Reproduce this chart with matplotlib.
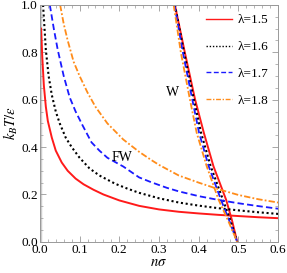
import numpy as np
import matplotlib
matplotlib.use('Agg')
import matplotlib.pyplot as plt
from matplotlib.ticker import MultipleLocator

'''############################################################################
   Data read off the picture (n sigma, k_B T / epsilon)
#############################################################################'''

lambdas = ['1.5', '1.6', '1.7', '1.8']

# FW branch
fw_n_15 = [0.003, 0.006, 0.01, 0.015, 0.02, 0.03, 0.04, 0.055, 0.07, 0.09, 0.11, 0.135, 0.16, 0.2, 0.25, 0.3, 0.35, 0.4, 0.45, 0.5, 0.55, 0.6]
fw_T_15 = [0.90, 0.78, 0.66, 0.57, 0.51, 0.44, 0.385, 0.335, 0.30, 0.267, 0.243, 0.22, 0.20, 0.175, 0.152, 0.137, 0.127, 0.12, 0.114, 0.109, 0.104, 0.10]

fw_n_16 = [0.008, 0.015, 0.022, 0.03, 0.04, 0.05, 0.065, 0.08, 0.10, 0.125, 0.15, 0.19, 0.22, 0.25, 0.3, 0.35, 0.4, 0.45, 0.5, 0.55, 0.6]
fw_T_16 = [1.0, 0.81, 0.70, 0.62, 0.55, 0.50, 0.44, 0.40, 0.355, 0.31, 0.28, 0.245, 0.225, 0.207, 0.184, 0.166, 0.153, 0.142, 0.133, 0.125, 0.118]

fw_n_17 = [0.025, 0.035, 0.045, 0.06, 0.075, 0.09, 0.108, 0.13, 0.15, 0.17, 0.21, 0.25, 0.28, 0.32, 0.35, 0.4, 0.45, 0.5, 0.55, 0.6]
fw_T_17 = [1.0, 0.90, 0.81, 0.70, 0.61, 0.55, 0.49, 0.42, 0.385, 0.355, 0.318, 0.272, 0.252, 0.228, 0.213, 0.193, 0.177, 0.163, 0.151, 0.14]

fw_n_18 = [0.051, 0.06, 0.07, 0.085, 0.1, 0.12, 0.14, 0.17, 0.21, 0.25, 0.28, 0.3, 0.35, 0.4, 0.45, 0.5, 0.55, 0.6]
fw_T_18 = [1.0, 0.92, 0.85, 0.76, 0.70, 0.63, 0.57, 0.50, 0.432, 0.38, 0.346, 0.325, 0.28, 0.25, 0.222, 0.198, 0.18, 0.166]

# W branch
w_T = [1.0, 0.8, 0.6, 0.46, 0.32, 0.178, 0.09, 0.0]
w_n_15 = [0.340, 0.365, 0.391, 0.413, 0.437, 0.469, 0.484, 0.497]
w_n_16 = [0.340, 0.363, 0.388, 0.406, 0.430, 0.461, 0.480, 0.497]
w_n_17 = [0.339, 0.360, 0.384, 0.401, 0.425, 0.456, 0.477, 0.497]
w_n_18 = [0.337, 0.355, 0.378, 0.395, 0.420, 0.450, 0.474, 0.497]

'''############################################################################
   Plot
#############################################################################'''

plt.rcParams['font.family'] = ['Liberation Serif', 'DejaVu Serif']
plt.rcParams['mathtext.fontset'] = 'stix'

fig = plt.figure(figsize=(2.87, 2.73), dpi=100)
ax = fig.add_axes([0.139, 0.114, 0.830, 0.868])

styles = [dict(color='#ff1a1a', ls='-', lw=1.4),
          dict(color='black', ls=(0, (1, 1.3)), lw=1.5),
          dict(color='#1a1aff', ls=(0, (3.5, 1.8)), lw=1.3),
          dict(color='#ff8c1a', ls=(0, (3.5, 1.2, 1, 1.2)), lw=1.3)]

fw = [(fw_n_15, fw_T_15), (fw_n_16, fw_T_16), (fw_n_17, fw_T_17), (fw_n_18, fw_T_18)]
w = [w_n_15, w_n_16, w_n_17, w_n_18]

for i in range(4):
    ax.plot(fw[i][0], fw[i][1], label='λ=' + lambdas[i], **styles[i])
    ax.plot(w[i], w_T, **styles[i])

ax.axvline(0, color='#cccccc', lw=2.5, zorder=0)

ax.text(0.333, 0.632, 'W', fontsize=10, ha='center', va='center')
ax.text(0.207, 0.354, 'FW', fontsize=10, ha='center', va='center')

ax.set_xlim(0, 0.6)
ax.set_ylim(0, 1.0)
ax.xaxis.set_major_locator(MultipleLocator(0.1))
ax.xaxis.set_minor_locator(MultipleLocator(0.02))
ax.yaxis.set_major_locator(MultipleLocator(0.2))
ax.yaxis.set_minor_locator(MultipleLocator(0.05))
ax.xaxis.set_major_formatter(plt.FormatStrFormatter('%.1f'))
ax.yaxis.set_major_formatter(plt.FormatStrFormatter('%.1f'))
ax.tick_params(which='both', direction='in', top=True, right=True, color='#999999',
               labelsize=9.5, pad=1.5)
ax.tick_params(which='major', length=4, width=0.6)
ax.tick_params(which='minor', length=2, width=0.5)
for s in ax.spines.values():
    s.set_color('#999999')
    s.set_linewidth(0.7)

ax.set_xlabel(r'$n\sigma$', fontsize=10.5, labelpad=0)
ax.set_ylabel(r'$k_BT/\epsilon$', fontsize=10.5, labelpad=1)

leg = ax.legend(loc='upper right', bbox_to_anchor=(1.0, 1.0), frameon=False,
                fontsize=9.5, handlelength=1.9, labelspacing=1.1, handletextpad=0.5,
                borderaxespad=0.3)
for l in leg.get_lines():
    l.set_linewidth(1.0)

plt.savefig('out.png', dpi=100)
plt.close()
